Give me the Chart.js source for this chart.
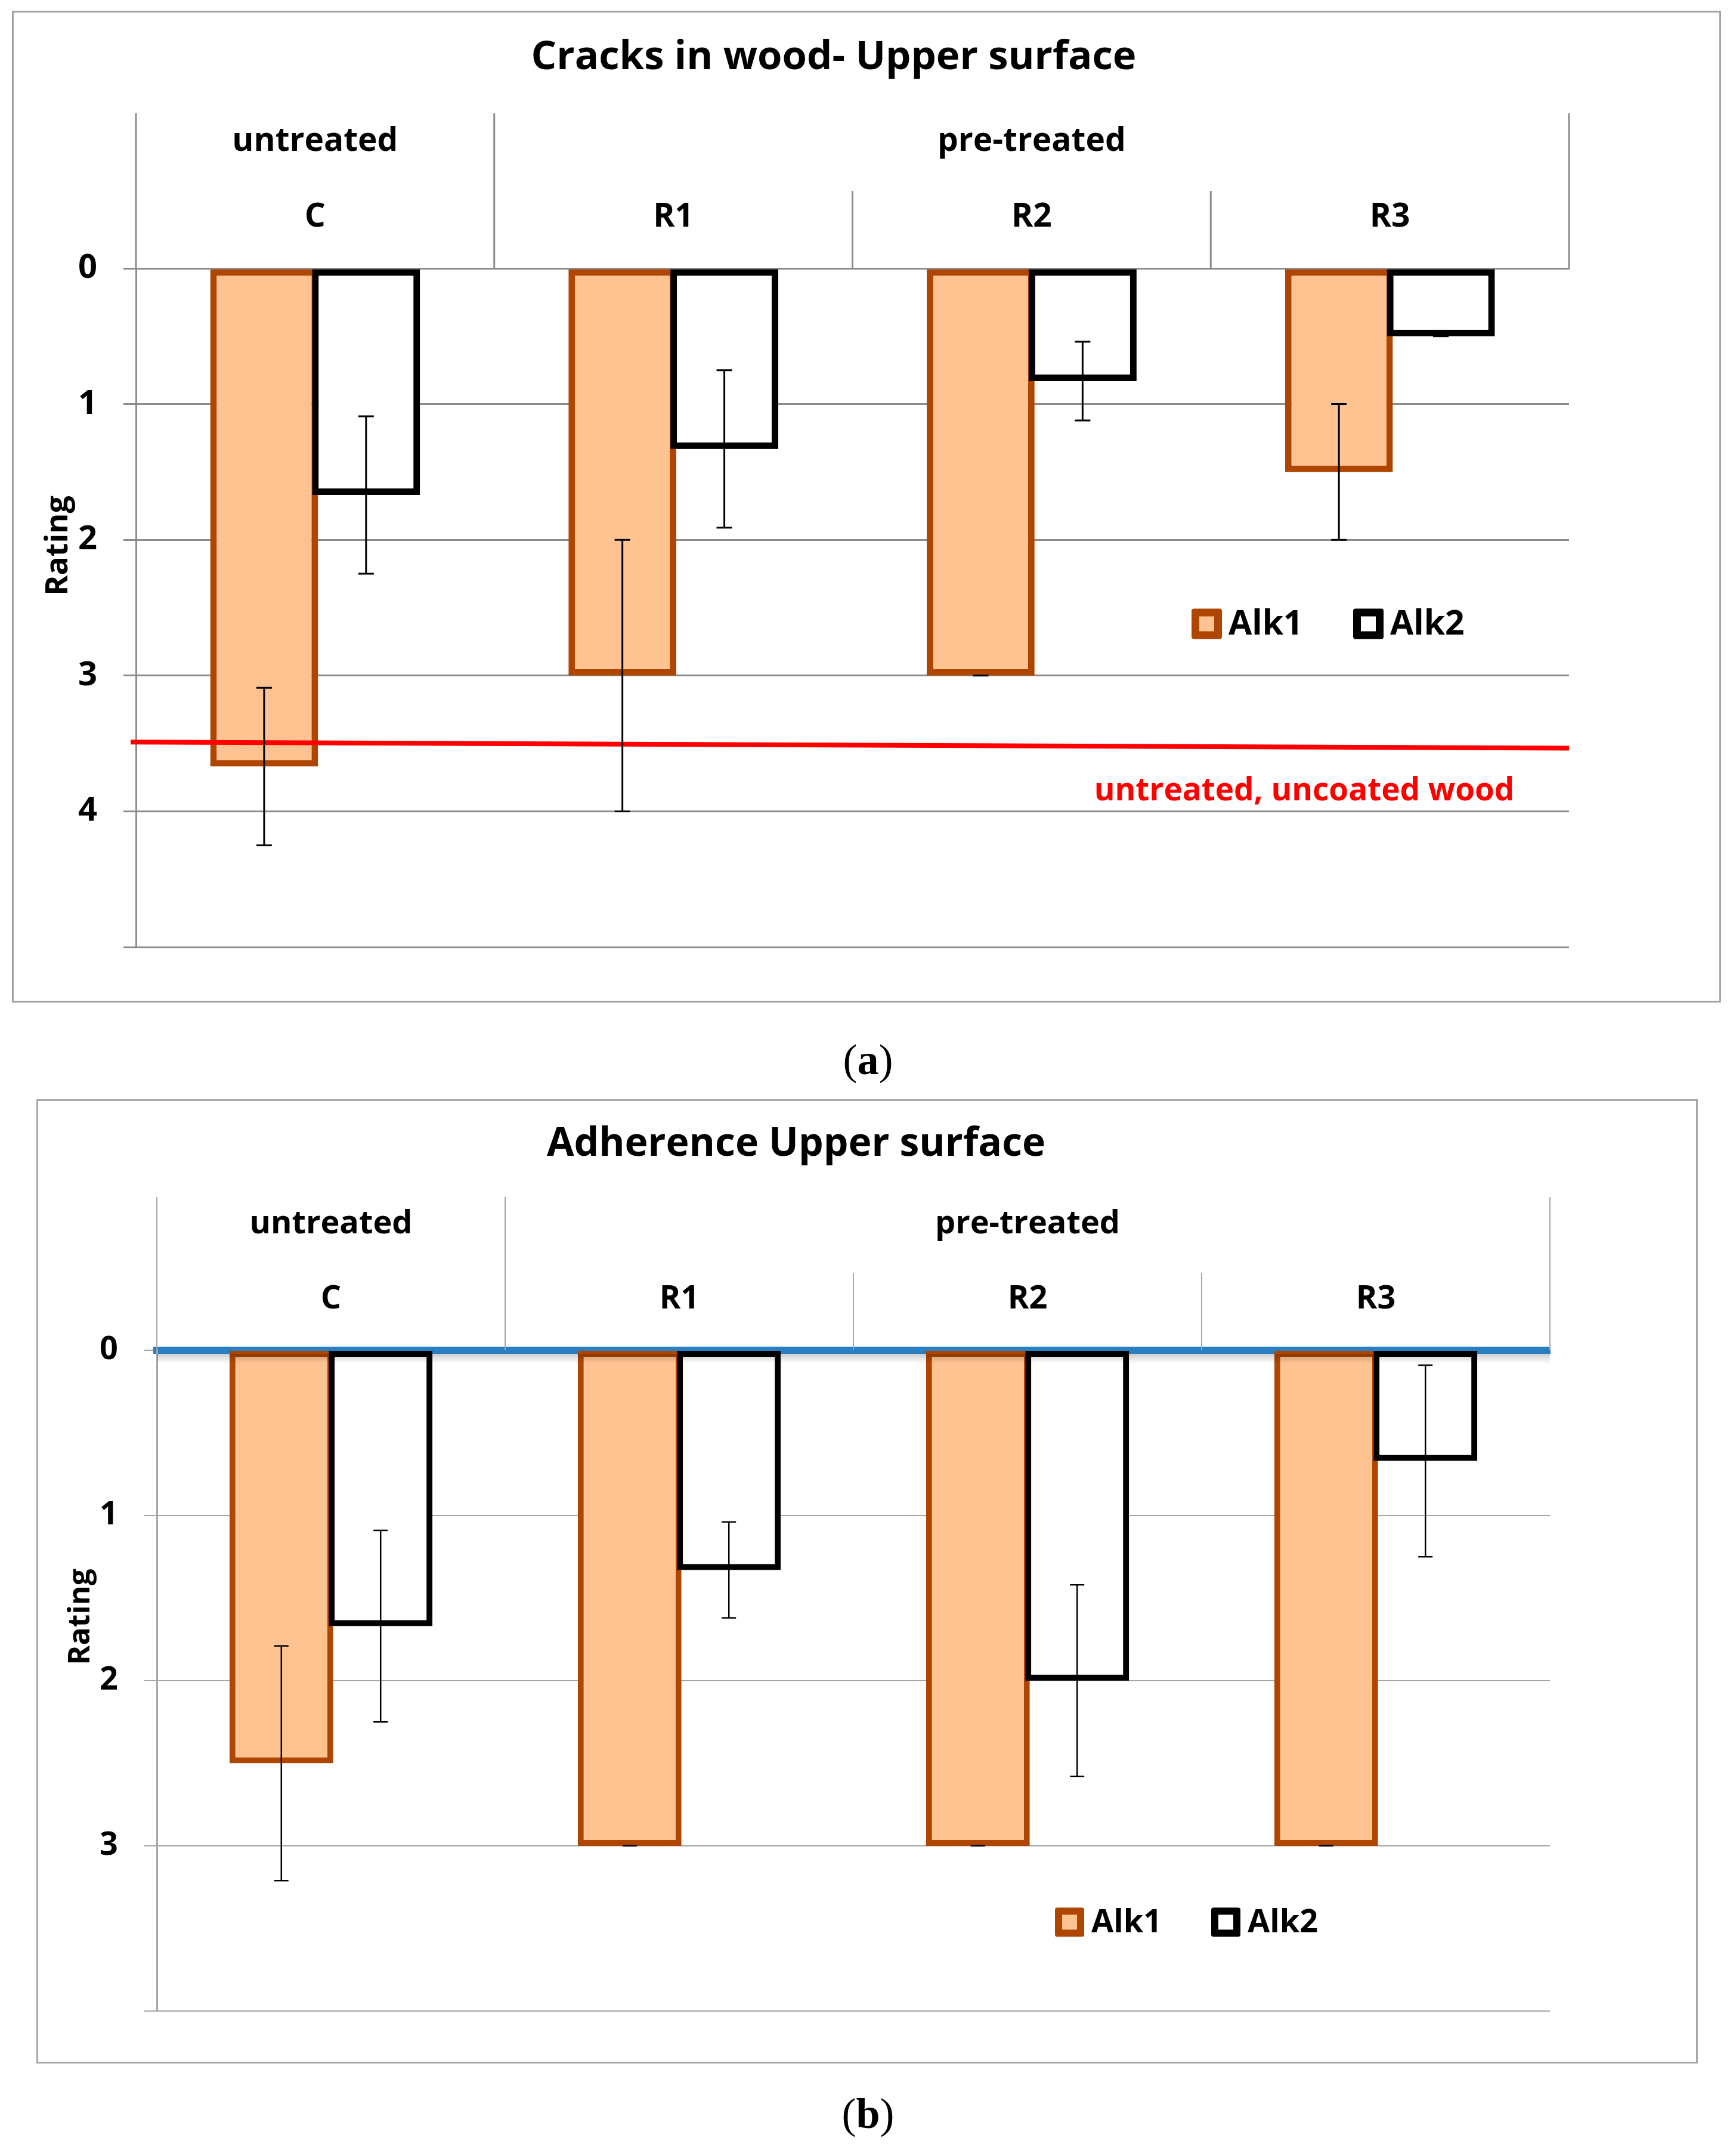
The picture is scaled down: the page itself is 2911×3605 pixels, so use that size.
<!DOCTYPE html>
<html>
<head>
<meta charset="utf-8">
<script src="https://cdn.jsdelivr.net/npm/chart.js@4.4.1/dist/chart.umd.min.js"></script>
<style>
  html, body { margin:0; padding:0; background:#ffffff; }
  body { position:relative; width:2911px; height:3605px; overflow:hidden; }
  .frame { position:absolute; box-sizing:border-box; border:3px solid #a3a3a3; }
  canvas { position:absolute; left:0; }
  .cap { position:absolute; left:0; width:2911px; text-align:center; font-family:'Liberation Serif', 'DejaVu Serif', serif; font-size:72px; line-height:72px; color:#000; }
</style>
</head>
<body>
<div class="frame" style="left:20px; top:18px; width:2866px; height:1663px;"></div>
<div class="frame" style="left:61px; top:1843px; width:2786px; height:1617px; border-color:#a8a8a8;"></div>
<canvas id="ca" width="2911" height="1700" style="top:0px; width:2911px; height:1700px;"></canvas>
<canvas id="cb" width="2911" height="1700" style="top:1800px; width:2911px; height:1700px;"></canvas>
<div class="cap" style="top:1741px;">(<b>a</b>)</div>
<div class="cap" style="top:3508px;">(<b>b</b>)</div>
<script>
// ---------------- data ----------------
const categories = ['C', 'R1', 'R2', 'R3'];
const groupLabels = ['untreated', 'pre-treated'];
const groupFirst = [0, 1];
const groupLast = [0, 3];
const seriesNames = ['Alk1', 'Alk2'];

// (a) Cracks in wood - Upper surface
const crackTitle = 'Cracks in wood- Upper surface';
const crackAlk1 = [3.67, 3.0, 3.0, 1.5];
const crackAlk1Err = [0.58, 1.0, 0, 0.5];
const crackAlk2 = [1.67, 1.33, 0.83, 0.5];
const crackAlk2Err = [0.58, 0.58, 0.29, 0];
const untreatedWoodLabel = 'untreated, uncoated wood';
const untreatedWood = [3.49, 3.535];   // rating at left end, right end
const crackTicks = ['0', '1', '2', '3', '4', ''];

// (b) Adherence Upper surface
const adhTitle = 'Adherence Upper surface';
const adhAlk1 = [2.5, 3.0, 3.0, 3.0];
const adhAlk1Err = [0.71, 0, 0, 0];
const adhAlk2 = [1.67, 1.33, 2.0, 0.67];
const adhAlk2Err = [0.58, 0.29, 0.58, 0.58];
const adhTicks = ['0', '1', '2', '3', ''];

const yTitle = 'Rating';

// ---------------- style ----------------
Chart.defaults.font.family = "'Open Sans', 'DejaVu Sans', sans-serif";
Chart.defaults.color = '#000000';
const ALK1_FILL = '#ffc391', ALK1_LINE = '#af4600';
const ALK2_FILL = '#ffffff', ALK2_LINE = '#000000';

// ---------------- plugin ----------------
const decor = {
  id: 'decor',
  afterDatasetsDraw(chart, args, o) {
    const ctx = chart.ctx;
    const ys = chart.scales.y;
    const area = chart.chartArea;
    // reference line (value at left and right end of the plot)
    if (o.refValues) {
      ctx.save();
      ctx.strokeStyle = o.refColor;
      ctx.lineWidth = o.refWidth;
      ctx.beginPath();
      ctx.moveTo(area.left - 9, ys.getPixelForValue(o.refValues[0]));
      ctx.lineTo(area.right, ys.getPixelForValue(o.refValues[1]));
      ctx.stroke();
      ctx.restore();
    }
    // second bar series is drawn over the first one where they touch
    chart.getDatasetMeta(chart.data.datasets.length - 1).data.forEach(el => el.draw(ctx));
    // error bars
    chart.data.datasets.forEach((ds, di) => {
      if (!ds.errors) return;
      const meta = chart.getDatasetMeta(di);
      meta.data.forEach((el, i) => {
        const v = ds.data[i], e = ds.errors[i];
        const x = el.x;
        const y1 = ys.getPixelForValue(v - e), y2 = ys.getPixelForValue(v + e);
        ctx.save();
        ctx.strokeStyle = '#000';
        ctx.lineWidth = o.errWidth;
        ctx.beginPath();
        ctx.moveTo(x, y1); ctx.lineTo(x, y2);
        ctx.moveTo(x - o.cap, y1); ctx.lineTo(x + o.cap, y1);
        ctx.moveTo(x - o.cap, y2); ctx.lineTo(x + o.cap, y2);
        ctx.stroke();
        ctx.restore();
      });
    });
  },
  afterDraw(chart, args, o) {
    const ctx = chart.ctx;
    const xs = chart.scales.x;
    const area = chart.chartArea;
    const top = area.top;
    const n = chart.data.labels.length;
    const c0 = xs.getPixelForValue(0), c1 = xs.getPixelForValue(1);
    const step = c1 - c0;
    const bounds = [];
    for (let i = 0; i <= n; i++) bounds.push(c0 + (i - 0.5) * step);
    // soft shadow under the axis line
    if (o.shadow) {
      const g = ctx.createLinearGradient(0, top + 6, 0, top + 22);
      g.addColorStop(0, 'rgba(0,0,0,0.20)');
      g.addColorStop(1, 'rgba(0,0,0,0)');
      ctx.fillStyle = g;
      ctx.fillRect(area.left, top + 6, area.right - area.left, 16);
    }
    // header separators
    ctx.save();
    ctx.strokeStyle = o.lineColor;
    ctx.lineWidth = o.lineWidth;
    bounds.forEach((b, i) => {
      const full = i === 0 || i === n || groupFirst.includes(i);
      ctx.beginPath();
      ctx.moveTo(b, full ? o.headerTop : o.subTop);
      ctx.lineTo(b, top);
      ctx.stroke();
    });
    ctx.restore();
    // group labels
    ctx.save();
    ctx.fillStyle = '#000';
    ctx.font = 'bold ' + o.groupSize + 'px ' + Chart.defaults.font.family;
    ctx.textAlign = 'center';
    ctx.textBaseline = 'alphabetic';
    groupLabels.forEach((g, k) => {
      const cx = (bounds[groupFirst[k]] + bounds[groupLast[k] + 1]) / 2;
      ctx.fillText(g, cx, o.groupBaseline);
    });
    ctx.restore();
    // y axis title
    ctx.save();
    ctx.translate(o.yTitleX, o.yTitleY);
    ctx.rotate(-Math.PI / 2);
    ctx.font = 'bold ' + o.yTitleSize + 'px ' + Chart.defaults.font.family;
    ctx.fillStyle = '#000';
    ctx.textAlign = 'center';
    ctx.textBaseline = 'middle';
    ctx.fillText(yTitle, 0, 0);
    ctx.restore();
    // legend
    ctx.save();
    ctx.font = 'bold ' + o.legendSize + 'px ' + Chart.defaults.font.family;
    ctx.textBaseline = 'middle';
    ctx.textAlign = 'left';
    chart.data.datasets.forEach((ds, k) => {
      const bx = o.legendX + k * o.legendStep;
      const s = o.legendBox, bw = o.legendBorder;
      const by = o.legendY - s / 2;
      ctx.fillStyle = ds.borderColor;
      ctx.beginPath();
      ctx.roundRect(bx, by, s, s, 4);
      ctx.fill();
      ctx.fillStyle = ds.backgroundColor;
      ctx.fillRect(bx + bw, by + bw, s - 2 * bw, s - 2 * bw);
      ctx.fillStyle = '#000';
      ctx.fillText(ds.label, bx + s + o.legendGap, o.legendY + 2);
    });
    ctx.restore();
    // label of the reference line
    if (o.refLabel) {
      ctx.save();
      ctx.font = 'bold ' + o.noteSize + 'px ' + Chart.defaults.font.family;
      ctx.fillStyle = o.refColor;
      ctx.textAlign = 'center';
      ctx.textBaseline = 'alphabetic';
      ctx.fillText(o.refLabel, o.noteX, o.noteY);
      ctx.restore();
    }
  }
};

// ---------------- chart (a) ----------------
new Chart(document.getElementById('ca'), {
  type: 'bar',
  data: {
    labels: categories,
    datasets: [
      { label: seriesNames[0], data: crackAlk1, errors: crackAlk1Err, backgroundColor: ALK1_FILL, borderColor: ALK1_LINE,
        borderWidth: 11, borderSkipped: false, categoryPercentage: 0.569, barPercentage: 1.058 },
      { label: seriesNames[1], data: crackAlk2, errors: crackAlk2Err, backgroundColor: ALK2_FILL, borderColor: ALK2_LINE,
        borderWidth: 11, borderSkipped: false, categoryPercentage: 0.569, barPercentage: 1.058 }
    ]
  },
  options: {
    responsive: false, animation: false, devicePixelRatio: 1, events: [],
    layout: { padding: { left: 100, right: 215, top: 0, bottom: 112 } },
    scales: {
      x: {
        type: 'category', position: 'top', offset: true,
        grid: { display: false },
        border: { display: true, color: '#8c8c8c', width: 3 },
        ticks: { font: { size: 55, weight: 'bold' }, color: '#000', padding: 45, maxRotation: 0 },
        afterFit: s => { s.height = 260; }
      },
      y: {
        reverse: true, min: 0, max: 5,
        ticks: { stepSize: 1, autoSkip: false, font: { size: 56, weight: 'bold' }, color: '#000', padding: 44,
                 callback: v => crackTicks[Math.round(v)] },
        grid: { color: '#8c8c8c', lineWidth: 3, tickLength: 21, drawTicks: true },
        border: { color: '#8c8c8c', width: 3 },
        afterFit: s => { s.width = 128; }
      },
      yr: {
        position: 'right', min: 0, max: 1,
        grid: { display: false }, border: { display: false }, ticks: { display: false },
        afterFit: s => { s.width = 65; }
      }
    },
    plugins: {
      legend: { display: false },
      tooltip: { enabled: false },
      title: { display: true, text: crackTitle, font: { size: 67, weight: 'bold' }, color: '#000',
               padding: { top: 57, bottom: 52.6 } },
      decor: {
        headerTop: 190, subTop: 320, lineColor: '#8c8c8c', lineWidth: 3,
        groupSize: 55, groupBaseline: 253,
        yTitleX: 98, yTitleY: 915, yTitleSize: 52,
        legendX: 1998, legendY: 1046, legendBox: 51, legendBorder: 13, legendGap: 11, legendStep: 271, legendSize: 57,
        refValues: untreatedWood, refLabel: untreatedWoodLabel, refColor: '#ff0000', refWidth: 8,
        noteX: 2187, noteY: 1342, noteSize: 53,
        errWidth: 3, cap: 13, shadow: false
      }
    }
  },
  plugins: [decor]
});

// ---------------- chart (b) ----------------
new Chart(document.getElementById('cb'), {
  type: 'bar',
  data: {
    labels: categories,
    datasets: [
      { label: seriesNames[0], data: adhAlk1, errors: adhAlk1Err, backgroundColor: ALK1_FILL, borderColor: ALK1_LINE,
        borderWidth: 10, borderSkipped: false, categoryPercentage: 0.570, barPercentage: 1.045 },
      { label: seriesNames[1], data: adhAlk2, errors: adhAlk2Err, backgroundColor: ALK2_FILL, borderColor: ALK2_LINE,
        borderWidth: 10, borderSkipped: false, categoryPercentage: 0.570, barPercentage: 1.045 }
    ]
  },
  options: {
    responsive: false, animation: false, devicePixelRatio: 1, events: [],
    layout: { padding: { left: 71, right: 312, top: 0, bottom: 128 } },
    scales: {
      x: {
        type: 'category', position: 'top', offset: true, z: 1,
        grid: { display: false },
        border: { display: true, color: '#2880c2', width: 12 },
        ticks: { font: { size: 54, weight: 'bold' }, color: '#000', padding: 44.5, maxRotation: 0 },
        afterFit: s => { s.height = 257; }
      },
      y: {
        reverse: true, min: 0, max: 4,
        ticks: { stepSize: 1, autoSkip: false, font: { size: 54, weight: 'bold' }, color: '#000', padding: 44,
                 callback: v => adhTicks[Math.round(v)] },
        grid: { color: '#a6a6a6', lineWidth: 2, tickLength: 21, drawTicks: true },
        border: { color: '#a6a6a6', width: 3 },
        afterFit: s => { s.width = 192; }
      }
    },
    plugins: {
      legend: { display: false },
      tooltip: { enabled: false },
      title: { display: true, text: adhTitle, font: { size: 66, weight: 'bold' }, color: '#000',
               padding: { top: 80, bottom: 47.8 } },
      decor: {
        headerTop: 207, subTop: 335, lineColor: '#a6a6a6', lineWidth: 2,
        groupSize: 54, groupBaseline: 268,
        yTitleX: 136, yTitleY: 911, yTitleSize: 50,
        legendX: 1769, legendY: 1423, legendBox: 49, legendBorder: 12, legendGap: 12, legendStep: 262, legendSize: 54,
        refValues: null, refLabel: null,
        errWidth: 2.5, cap: 12, shadow: true
      }
    }
  },
  plugins: [decor]
});
</script>
</body>
</html>
